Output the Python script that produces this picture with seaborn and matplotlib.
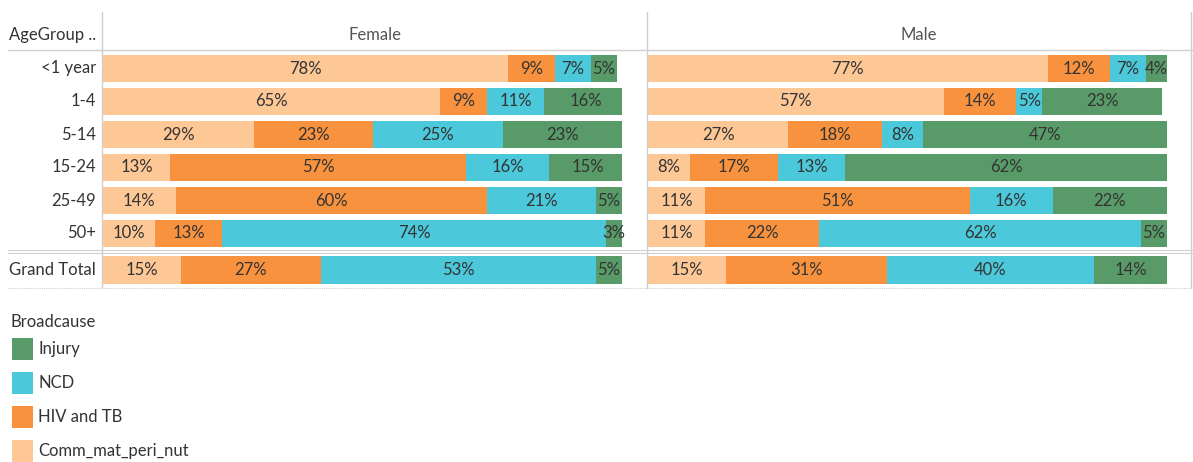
import numpy as np
import pandas as pd
import matplotlib
matplotlib.use("Agg")
import matplotlib.pyplot as plt
import seaborn as sns
from matplotlib.patches import Rectangle

# ---- data -----------------------------------------------------------------
age_groups = ["<1 year", "1-4", "5-14", "15-24", "25-49", "50+"]
total_row = ["Grand Total"]
causes = ["Comm_mat_peri_nut", "HIV and TB", "NCD", "Injury"]
legend_order = ["Injury", "NCD", "HIV and TB", "Comm_mat_peri_nut"]
sexes = ["Female", "Male"]

female_comm = [78, 65, 29, 13, 14, 10]
female_hiv = [9, 9, 23, 57, 60, 13]
female_ncd = [7, 11, 25, 16, 21, 74]
female_injury = [5, 16, 23, 15, 5, 3]
female_total = [15, 27, 53, 5]

male_comm = [77, 57, 27, 8, 11, 11]
male_hiv = [12, 14, 18, 17, 51, 22]
male_ncd = [7, 5, 8, 13, 16, 62]
male_injury = [4, 23, 47, 62, 22, 5]
male_total = [15, 31, 40, 14]

palette = {
    "Comm_mat_peri_nut": "#fec896",
    "HIV and TB": "#f8923e",
    "NCD": "#4bc8da",
    "Injury": "#589a68",
}

female_tab = pd.DataFrame({"Comm_mat_peri_nut": female_comm, "HIV and TB": female_hiv,
                           "NCD": female_ncd, "Injury": female_injury}, index=age_groups)
male_tab = pd.DataFrame({"Comm_mat_peri_nut": male_comm, "HIV and TB": male_hiv,
                         "NCD": male_ncd, "Injury": male_injury}, index=age_groups)
female_tot_tab = pd.DataFrame([female_total], columns=causes, index=total_row)
male_tot_tab = pd.DataFrame([male_total], columns=causes, index=total_row)

# ---- figure ---------------------------------------------------------------
sns.set_theme(style="white")
plt.rcParams["font.family"] = ["Lato", "DejaVu Sans"]
TXT = "#333333"
LINE = "#cfcfcf"

W, H = 1193, 462
fig = plt.figure(figsize=(W / 100, H / 100), dpi=100)

bg = fig.add_axes([0, 0, 1, 1])
bg.set_xlim(0, W)
bg.set_ylim(H, 0)
bg.axis("off")
bg.set_zorder(-1)


def px_axes(x0, y0, x1, y1):
    return fig.add_axes([x0 / W, 1 - y1 / H, (x1 - x0) / W, (y1 - y0) / H])


def draw_stack(ax, table, width):
    rows = list(table.index)
    cum = table.cumsum(axis=1)
    # draw cumulative totals from the widest down so each segment shows
    for cause in reversed(causes):
        d = pd.DataFrame({"row": rows, "end": cum[cause].values})
        sns.barplot(data=d, x="end", y="row", order=rows, orient="h",
                    color=palette[cause], saturation=1, width=width,
                    errorbar=None, linewidth=0, ax=ax)
    for i, r in enumerate(rows):
        start = 0
        for c in causes:
            v = table.loc[r, c]
            ax.text(start + v / 2, i, f"{v}%", ha="center", va="center",
                    fontsize=12, color=TXT)
            start += v
    ax.set_xlim(0, 100)
    ax.set_ylim(len(rows) - 0.5, -0.5)
    ax.axis("off")


panels = [(female_tab, female_tot_tab, 103, 622), (male_tab, male_tot_tab, 648, 1167)]
for tab, tot, x0, x1 in panels:
    draw_stack(px_axes(x0, 52, x1, 250), tab, 0.82)
    draw_stack(px_axes(x0, 253, x1, 287), tot, 0.8)

# ---- table frame and headers ---------------------------------------------
bg.plot([8, 1192], [50, 50], color=LINE, lw=1)
bg.plot([8, 1192], [250, 250], color=LINE, lw=0.8)
bg.plot([8, 1192], [252.5, 252.5], color=LINE, lw=0.8)
bg.plot([8, 1192], [288, 288], color=LINE, lw=0.8, ls=(0, (1, 1)))
for xv in (102, 647, 1191):
    bg.plot([xv, xv], [12, 288], color=LINE, lw=1)

bg.text(9, 35, "AgeGroup ..", ha="left", va="center", fontsize=12, color=TXT)
bg.text(375, 35, sexes[0], ha="center", va="center", fontsize=12, color="#555555")
bg.text(919, 35, sexes[1], ha="center", va="center", fontsize=12, color="#555555")

for k, g in enumerate(age_groups):
    bg.text(96, 68.5 + 33 * k, g, ha="right", va="center", fontsize=12, color=TXT)
bg.text(96, 270, total_row[0], ha="right", va="center", fontsize=12, color=TXT)

# ---- legend ---------------------------------------------------------------
bg.text(11, 322, "Broadcause", ha="left", va="center", fontsize=12, color=TXT)
for k, c in enumerate(legend_order):
    cy = 349 + 34 * k
    bg.add_patch(Rectangle((12, cy - 11), 21, 22, facecolor=palette[c], edgecolor="none"))
    bg.text(38, cy, c, ha="left", va="center", fontsize=12, color=TXT)

fig.savefig("out.png", dpi=100, facecolor="white")
